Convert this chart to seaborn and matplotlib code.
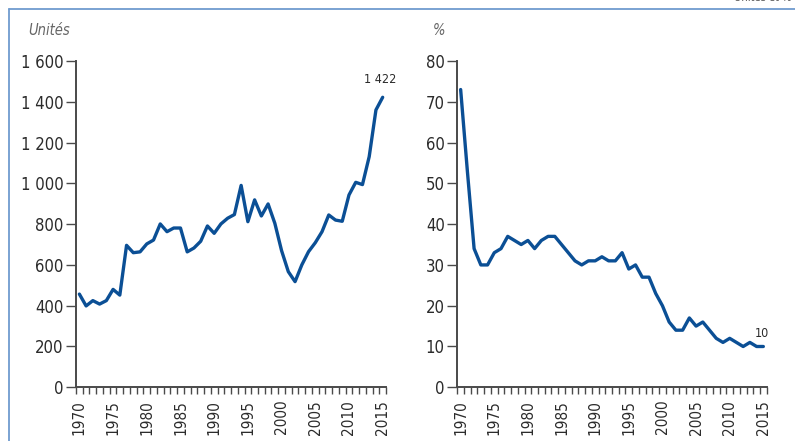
import numpy as np
import pandas as pd
import seaborn as sns
import matplotlib.pyplot as plt
from matplotlib.lines import Line2D

years = list(range(1970, 2016))

units = [457, 399, 425, 408, 425, 480, 452, 696, 660, 664,
         703, 722, 801, 763, 781, 781, 664, 683, 716, 791,
         755, 801, 829, 847, 990, 812, 919, 840, 899, 804,
         670, 567, 518, 600, 665, 709, 763, 845, 820, 814,
         943, 1005, 994, 1131, 1360, 1422]

share = [73, 53, 34, 30, 30, 33, 34, 37, 36, 35,
         36, 34, 36, 37, 37, 35, 33, 31, 30, 31,
         31, 32, 31, 31, 33, 29, 30, 27, 27, 23,
         20, 16, 14, 14, 17, 15, 16, 14, 12, 11,
         12, 11, 10, 11, 10, 10]

left_ticks = [0, 200, 400, 600, 800, 1000, 1200, 1400, 1600]
left_labels = ['0', '200', '400', '600', '800', '1 000', '1 200', '1 400', '1 600']
right_ticks = [0, 10, 20, 30, 40, 50, 60, 70, 80]
year_labels = [1970, 1975, 1980, 1985, 1990, 1995, 2000, 2005, 2010, 2015]

sns.set_style('ticks')
plt.rcParams['font.family'] = ['Liberation Sans Narrow', 'DejaVu Sans']
plt.rcParams['font.stretch'] = 'condensed'

LINE = '#0b4f95'
TXT = '#2b2b2b'
AXC = '#4a4a4a'

df = pd.DataFrame({'year': years, 'units': units, 'share': share})

fig = plt.figure(figsize=(7.95, 4.41), dpi=100)
ax1 = fig.add_axes([0.0956, 0.1218, 0.39, 0.7399])
ax2 = fig.add_axes([0.5752, 0.1218, 0.3892, 0.7399])


def style(ax, ymax, ticks, labels):
    ax.set_xlim(1969.5, 2015.5)
    ax.set_ylim(0, ymax)
    ax.set_yticks(ticks)
    ax.set_yticklabels(labels)
    # year boundaries as small ticks, labels at years
    ax.set_xticks([y - 0.5 for y in years] + [2015.5], minor=True)
    ax.set_xticks(year_labels)
    ax.set_xticklabels([str(y) for y in year_labels], rotation=90)
    ax.tick_params(axis='x', which='major', length=0, pad=9, labelsize=11, colors=TXT)
    ax.tick_params(axis='x', which='minor', length=5, width=1, color=AXC, direction='out')
    ax.tick_params(axis='y', length=7, width=1, color=AXC, pad=2, labelsize=12, labelcolor=TXT)
    sns.despine(ax=ax)
    for s in ['left', 'bottom']:
        ax.spines[s].set_color(AXC)
        ax.spines[s].set_linewidth(1.4)
    ax.set_xlabel('')
    ax.set_ylabel('')


sns.lineplot(data=df, x='year', y='units', ax=ax1, color=LINE, linewidth=2.4)
style(ax1, 1600, left_ticks, left_labels)
ax1.annotate('1 422', (years[-1], units[-1]), xytext=(-2, 8), textcoords='offset points',
             ha='center', va='bottom', fontsize=9, color=TXT)
ax1.text(-0.155, 1.07, 'Unités', transform=ax1.transAxes, fontsize=10.5, style='italic',
         color='#666666', ha='left', va='bottom')

sns.lineplot(data=df, x='year', y='share', ax=ax2, color=LINE, linewidth=2.4)
style(ax2, 80, right_ticks, [str(t) for t in right_ticks])
ax2.annotate('10', (years[-1], share[-1]), xytext=(-1, 5), textcoords='offset points',
             ha='center', va='bottom', fontsize=9, color=TXT)
ax2.text(-0.08, 1.07, '%', transform=ax2.transAxes, fontsize=10.5, style='italic',
         color='#666666', ha='left', va='bottom')

# surrounding frame (top and left edges)
fig.add_artist(Line2D([8.5 / 795, 1.0], [1 - 8.5 / 441, 1 - 8.5 / 441],
                      transform=fig.transFigure, color='#6f9bcf', linewidth=1.3))
fig.add_artist(Line2D([8.5 / 795, 8.5 / 795], [0, 1 - 8.5 / 441],
                      transform=fig.transFigure, color='#6f9bcf', linewidth=1.3))
fig.text(0.995, 1 + 2 / 441, 'Unités et %', ha='right', va='center', fontsize=8, color='#555555')

fig.savefig('out.png', dpi=100)
